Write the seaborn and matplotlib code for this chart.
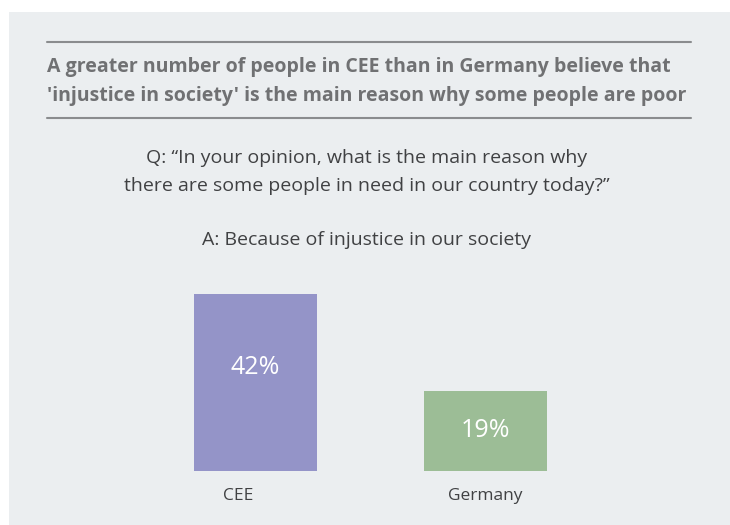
import matplotlib
matplotlib.use("Agg")
import matplotlib.pyplot as plt
import matplotlib.transforms as mtransforms
import seaborn as sns
import pandas as pd
from matplotlib.lines import Line2D
from matplotlib.patches import Rectangle

categories = ["CEE", "Germany"]
values = [42, 19]
labels = ["42%", "19%"]
colors = ["#9494c8", "#9cbd96"]

title_lines = ["A greater number of people in CEE than in Germany believe that",
               "'injustice in society' is the main reason why some people are poor"]
question_lines = ["Q: \u201cIn your opinion, what is the main reason why",
                  "there are some people in need in our country today?\u201d"]
answer = "A: Because of injustice in our society"

sns.set_theme(style="white")
plt.rcParams['font.family'] = ['Open Sans', 'DejaVu Sans']

W, H = 730, 525
bg = "#ebeef0"
fig = plt.figure(figsize=(W / 100, H / 100), dpi=100)
fig.patch.set_facecolor(bg)

def fx(px):
    return px / W

def fy(py):
    return 1 - py / H

# white margins at top and left
fig.patches.append(Rectangle((0, fy(12)), 1, 1 - fy(12) + 0.01, transform=fig.transFigure,
                             facecolor="white", edgecolor="none", zorder=0))
fig.patches.append(Rectangle((0, 0), fx(9), 1, transform=fig.transFigure,
                             facecolor="white", edgecolor="none", zorder=0))

for y in (42, 118):
    fig.lines.append(Line2D([fx(47), fx(691)], [fy(y), fy(y)], transform=fig.transFigure,
                            color="#8a8c8e", lw=1.5, zorder=5))

title_color = "#707173"
for i, line in enumerate(title_lines):
    fig.text(fx(47), fy(67 + 29 * i), line, ha="left", va="center", fontsize=14.0,
             fontweight="bold", color=title_color, zorder=5)

text_color = "#404143"
fig.text(fx(367), fy(158), question_lines[0], ha="center", va="center", fontsize=14,
         color=text_color, zorder=5)
fig.text(fx(367), fy(186), question_lines[1], ha="center", va="center", fontsize=14,
         color=text_color, zorder=5)
fig.text(fx(367), fy(240), answer, ha="center", va="center", fontsize=14, color=text_color,
         zorder=5)

# axes: x from 140.5 to 600.5 px, bottom at 471 px
ax_bottom = 471
ppu = (471 - 294) / 42.0
ymax = 50
ax_top = ax_bottom - ymax * ppu
ax = fig.add_axes([fx(140.5), fy(ax_bottom), fx(600.5) - fx(140.5), (ax_bottom - ax_top) / H],
                  zorder=2)
ax.set_facecolor("none")

df = pd.DataFrame({"region": categories, "value": values})
sns.barplot(data=df, x="region", y="value", hue="region", palette=colors, width=123 / 230,
            ax=ax, legend=False, saturation=1, linewidth=0, edgecolor="none")
ax.set_xlim(-0.5, 1.5)
ax.set_ylim(0, ymax)
for s in ax.spines.values():
    s.set_visible(False)
ax.set_yticks([])
ax.set_xlabel("")
ax.set_ylabel("")
ax.tick_params(axis="x", length=0, pad=12, labelsize=12.5, labelcolor=text_color)

# first tick label sits slightly left of its bar in the reference
tl = ax.get_xticklabels()
tl[0].set_transform(tl[0].get_transform() + mtransforms.ScaledTranslation(-0.17, 0, fig.dpi_scale_trans))

offsets = [74, 40]
for i, (v, lab) in enumerate(zip(values, labels)):
    ax.text(i, v - offsets[i] / ppu, lab, ha="center", va="center",
            color="white", fontsize=18)

fig.savefig("out.png", dpi=100, facecolor=fig.get_facecolor())
